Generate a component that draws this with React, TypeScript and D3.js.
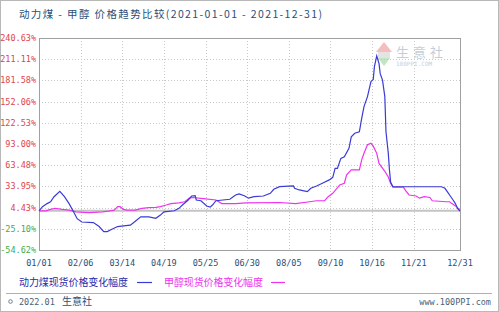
import React from "react";
import * as d3 from "d3";

const title = "动力煤 - 甲醇 价格趋势比较(2021-01-01 - 2021-12-31)";
const yTickValues = [240.63, 211.11, 181.58, 152.06, 122.53, 93.0, 63.48, 33.95, 4.43, -25.1, -54.62];
const yTickLabels = ["240.63%", "211.11%", "181.58%", "152.06%", "122.53%", "93.00%", "63.48%", "33.95%", "4.43%", "-25.10%", "-54.62%"];
const xTickDates = ["2021-01-01", "2021-02-06", "2021-03-14", "2021-04-19", "2021-05-25", "2021-06-30", "2021-08-05", "2021-09-10", "2021-10-16", "2021-11-21", "2021-12-31"];
const xTickLabels = ["01/01", "02/06", "03/14", "04/19", "05/25", "06/30", "08/05", "09/10", "10/16", "11/21", "12/31"];

const coalName = "动力煤现货价格变化幅度";
const methanolName = "甲醇现货价格变化幅度";

const coalDates = [
  "01-01", "01-04", "01-08", "01-11", "01-14", "01-19", "01-23", "01-27", "01-31", "02-03",
  "02-07", "02-17", "02-22", "02-26", "03-01", "03-05", "03-10", "03-17", "03-21", "03-25",
  "03-30", "04-06", "04-12", "04-16", "04-19", "04-28", "05-02", "05-05", "05-10", "05-13",
  "05-16", "05-17", "05-21", "05-26", "05-29", "05-31", "06-03", "06-09", "06-15", "06-20",
  "06-23", "06-28", "07-01", "07-06", "07-14", "07-20", "07-23", "07-28", "08-09", "08-10",
  "08-14", "08-21", "08-24", "08-29", "09-03", "09-09", "09-12", "09-14", "09-16", "09-19",
  "09-22", "09-26", "09-28", "10-01", "10-05", "10-07", "10-09", "10-12", "10-15", "10-17",
  "10-18", "10-20", "10-22", "10-23", "10-25", "10-27", "10-28", "10-30", "10-31", "11-01",
  "11-03", "12-15", "12-18", "12-20", "12-22", "12-25", "12-27", "12-29", "12-31",
];
const coalValues = [
  0, 5.7, 10, 12.6, 19.6, 27, 19.6, 10, -1.6, -11,
  -15.6, -16.5, -22, -29, -29, -25.8, -22, -20.8, -20, -15,
  -8.5, -8.5, -10.5, -6, -1.6, 0, 3.4, 8, 15, 20.6,
  21, 15, 14, 6.6, 5, 8, 14, 15, 16, 22,
  23.4, 20.6, 17.6, 19.6, 20.6, 24.3, 30, 33.6, 34.6, 31.3,
  29, 26.6, 31.3, 34.6, 38.3, 43, 46.6, 59, 59, 73,
  75.3, 87, 103, 108, 110, 128.8, 145, 159, 180, 183,
  200.7, 215.6, 205, 191, 182, 159, 110, 80, 57, 40,
  33.5, 33.5, 31.3, 26.6, 22, 15, 10, 3, -0.5,
];

const methanolDates = [
  "01-01", "01-07", "01-11", "01-15", "01-21", "01-27", "02-02", "02-13", "02-25", "03-02",
  "03-07", "03-10", "03-12", "03-15", "03-18", "03-25", "03-31", "04-06", "04-12", "04-16",
  "04-21", "04-25", "05-02", "05-07", "05-11", "05-14", "05-23", "06-03", "06-08", "06-20",
  "06-29", "07-28", "08-11", "08-23", "08-29", "09-05", "09-08", "09-12", "09-18", "09-22",
  "09-24", "09-28", "10-05", "10-07", "10-09", "10-12", "10-15", "10-17", "10-20", "10-22",
  "10-27", "10-30", "11-01", "11-03", "11-12", "11-14", "11-17", "11-23", "11-26", "11-30",
  "12-05", "12-07", "12-19", "12-22", "12-24", "12-28", "12-31",
];
const methanolValues = [
  0, 0, 2, 3.4, 2, 1, -1.6, -2.5, -1.6, -0.6,
  0.9, 5.7, 5.7, 2, 1, 0.9, 3.4, 4.3, 4.8, 5.7,
  8, 10, 11, 12.6, 17.6, 18.5, 17, 15, 10, 10,
  11, 11.5, 10, 12.6, 14, 14, 19.6, 24.3, 36, 38.3,
  50, 57, 57, 71, 80, 92, 94, 90, 80, 66,
  55, 47, 38, 33, 33, 28, 22, 20.6, 17.6, 19.6,
  18.5, 14, 12.6, 12.6, 10, 5.7, 1,
];

const W = 499;
const H = 312;
const left = 39;
const right = 460;
const top = 38;
const bottom = 250;

const parse = d3.timeParse("%Y-%m-%d");

export default function App() {
  const x = d3
    .scaleTime()
    .domain([parse("2021-01-01") as Date, parse("2021-12-31") as Date])
    .range([left, right]);
  const y = d3.scaleLinear().domain([-54.62, 240.63]).range([bottom, top]);

  const coal = coalDates.map((d, i) => ({ d: parse("2021-" + d) as Date, v: coalValues[i] }));
  const meth = methanolDates.map((d, i) => ({ d: parse("2021-" + d) as Date, v: methanolValues[i] }));
  const line = d3
    .line<{ d: Date; v: number }>()
    .x((p) => x(p.d))
    .y((p) => y(p.v));

  const mono = "'DejaVu Sans Mono', 'Liberation Mono', monospace";
  const cjk = "'Noto Sans CJK SC', 'Noto Sans', sans-serif";

  return (
    <div style={{ position: "fixed", left: 0, top: 0 }}>
      <svg width={W} height={H} style={{ display: "block", background: "#fff" }}>
        <rect x={0.5} y={0.5} width={W - 1} height={H - 1} fill="#fff" stroke="#b8b8b8" />
        <text
          x={19}
          y={18}
          fontFamily={cjk}
          fontSize={10.5}
          fill="#2a4f7a"
          textLength={303}
          lengthAdjust="spacing"
        >
          {title}
        </text>

        {/* watermark */}
        <g opacity={0.55}>
          <path d={`M${376},${52} L${384},${42} L${392},${52} Z`} fill="#e88a8a" />
          <rect x={378} y={52} width={12} height={6} fill="#cfcfcf" />
          <path d={`M${378},${58} L${390},${58} L${384},${66} Z`} fill="#8fcf8f" />
          <text x={396} y={57} fontFamily={cjk} fontSize={13} fill="#9aa6b8" letterSpacing={4}>
            生意社
          </text>
          <text x={396} y={66} fontFamily={mono} fontSize={6} fill="#9aa6b8">
            100PPI.COM
          </text>
        </g>

        {/* horizontal grid */}
        {yTickValues.map((v, i) =>
          i === 0 || i === yTickValues.length - 1 ? null : (
            <line
              key={"hg" + i}
              x1={left}
              x2={right}
              y1={Math.round(y(v)) + 0.5}
              y2={Math.round(y(v)) + 0.5}
              stroke="#c8c8c8"
              strokeDasharray="1,2"
            />
          )
        )}
        {/* vertical grid */}
        {xTickDates.map((d, i) =>
          i === 0 || i === xTickDates.length - 1 ? null : (
            <line
              key={"vg" + i}
              x1={Math.round(x(parse(d) as Date)) + 0.5}
              x2={Math.round(x(parse(d) as Date)) + 0.5}
              y1={top}
              y2={bottom}
              stroke="#c8c8c8"
              strokeDasharray="1,2"
            />
          )
        )}
        {/* zero line */}
        <line x1={left} x2={right} y1={y(0)} y2={y(0)} stroke="#c4c4c4" strokeWidth={2} />
        {/* frame */}
        <rect x={left + 0.5} y={top + 0.5} width={right - left} height={bottom - top} fill="none" stroke="#a0a0a0" />

        {/* y labels */}
        {yTickValues.map((v, i) => (
          <text
            key={"yl" + i}
            x={36}
            y={y(v) + 3}
            textAnchor="end"
            fontFamily={mono}
            fontSize={8.5}
            fill={v < 0 ? "#3fae49" : "#e0454f"}
          >
            {yTickLabels[i]}
          </text>
        ))}
        {/* x labels */}
        {xTickDates.map((d, i) => (
          <text
            key={"xl" + i}
            x={x(parse(d) as Date)}
            y={266}
            textAnchor="middle"
            fontFamily={mono}
            fontSize={8.5}
            fill="#2a4f7a"
          >
            {xTickLabels[i]}
          </text>
        ))}

        {/* series */}
        <path d={line(meth) || ""} fill="none" stroke="#ee33ee" strokeWidth={1.2} />
        <path d={line(coal) || ""} fill="none" stroke="#3a3ad6" strokeWidth={1.2} />

        {/* legend */}
        <text x={19} y={285.5} fontFamily={cjk} fontSize={10} fill="#2a2aa8" textLength={109} lengthAdjust="spacing">
          {coalName}
        </text>
        <line x1={137} x2={152} y1={282.5} y2={282.5} stroke="#3a3ad6" strokeWidth={1.2} />
        <text x={164} y={285.5} fontFamily={cjk} fontSize={10} fill="#ee33ee" textLength={99} lengthAdjust="spacing">
          {methanolName}
        </text>
        <line x1={271} x2={285} y1={282.5} y2={282.5} stroke="#ee33ee" strokeWidth={1.2} />

        {/* footer */}
        <line x1={6} x2={492} y1={293.5} y2={293.5} stroke="#b0b0b0" />
        <circle cx={10.5} cy={301.5} r={1.8} fill="none" stroke="#6a7f95" strokeWidth={1} />
        <text x={19} y={305} fontFamily={mono} fontSize={8.5} fill="#4a5f78">
          2022.01
        </text>
        <text x={62} y={305} fontFamily={cjk} fontSize={10} fill="#2a4f7a">
          生意社
        </text>
        <text x={491} y={305} textAnchor="end" fontFamily={mono} fontSize={8.5} fill="#4a5f78">
          www.100PPI.com
        </text>
      </svg>
    </div>
  );
}
